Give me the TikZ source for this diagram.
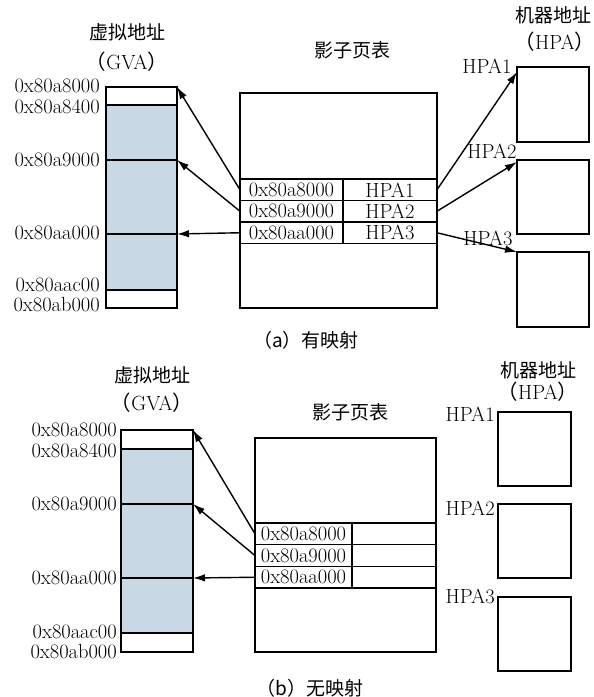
\documentclass[tikz,border=0pt]{standalone}
\usepackage{fontspec}
\newfontfamily\cjk{Noto Sans CJK SC}
\usetikzlibrary{arrows.meta}
\definecolor{shade}{RGB}{200,216,229}
\begin{document}
\begin{tikzpicture}[x=1pt,y=-1pt,
  box/.style={draw, line width=1.5pt, inner sep=0pt, outer sep=0pt, anchor=north west, font=\fontsize{20.5}{24}\selectfont},
  sh/.style={box, fill=shade},
  lab/.style={font=\fontsize{20.5}{24}\selectfont, inner sep=0pt},
  zh/.style={font=\fontsize{19}{22}\selectfont\cjk, inner sep=0pt},
  arr/.style={-{Latex[length=12pt,width=7.5pt]}, line width=1.4pt},
]
\useasboundingbox (0,0) rectangle (594,697);

% ================= (a) =================
\node[zh] (ta1) at (127,32) {虚拟地址};
\node[lab] (ta2) at (127,62) {{\cjk （}GVA{\cjk ）}};
\node[zh] (ta3) at (352,50) {影子页表};
\node[zh] (ta4) at (553,15) {机器地址};
\node[lab] (ta5) at (555,42) {{\cjk （}HPA{\cjk ）}};

\node[box, minimum width=71pt, minimum height=18pt] (a0) at (106,87) {};
\node[sh, minimum width=71pt, minimum height=55pt] (a1) at (106,105) {};
\node[sh, minimum width=71pt, minimum height=74pt] (a2) at (106,160) {};
\node[sh, minimum width=71pt, minimum height=56pt] (a3) at (106,234) {};
\node[box, minimum width=71pt, minimum height=18pt] (a4) at (106,290) {};

\node[lab, anchor=east] (la0) at (100,86) {0x80a8000};
\node[lab, anchor=east] (la1) at (100,107) {0x80a8400};
\node[lab, anchor=east] (la2) at (100,160) {0x80a9000};
\node[lab, anchor=east] (la3) at (100,233) {0x80aa000};
\node[lab, anchor=east] (la4) at (100,285) {0x80aac00};
\node[lab, anchor=east] (la5) at (100,305) {0x80ab000};

\node[box, minimum width=197pt, minimum height=215pt] (ta) at (240,93) {};
\node[box, minimum width=103pt, minimum height=21.5pt] (ak1) at (240,179) {0x80a8000};
\node[box, minimum width=103pt, minimum height=21.5pt] (ak2) at (240,200.5) {0x80a9000};
\node[box, minimum width=103pt, minimum height=21.5pt] (ak3) at (240,222) {0x80aa000};
\node[box, minimum width=94pt, minimum height=21.5pt] (av1) at (343,179) {HPA1};
\node[box, minimum width=94pt, minimum height=21.5pt] (av2) at (343,200.5) {HPA2};
\node[box, minimum width=94pt, minimum height=21.5pt] (av3) at (343,222) {HPA3};

\node[box, minimum width=72pt, minimum height=75pt] (h1) at (517,67) {};
\node[box, minimum width=72pt, minimum height=74pt] (h2) at (517,160) {};
\node[box, minimum width=72pt, minimum height=75pt] (h3) at (517,252) {};

\node[lab] (hl1) at (487,66) {HPA1};
\node[lab] (hl2) at (492,151) {HPA2};
\node[lab] (hl3) at (488,238) {HPA3};

\draw[arr] (ak1.west) -- (a0.north east);
\draw[arr] (ak2.west) -- (a2.north east);
\draw[arr] (ak3.west) -- (a3.north east);
\draw[arr] (av1.east) -- ([yshift=-5pt]h1.north west);
\draw[arr] (av2.east) -- ([yshift=-2pt]h2.north west);
\draw[arr] (av3.east) -- (h3.north west);

\node[zh] (capa) at (306,340) {（a）有映射};

% ================= (b) =================
\node[zh] (tb1) at (152,375) {虚拟地址};
\node[lab] (tb2) at (152,403) {{\cjk （}GVA{\cjk ）}};
\node[zh] (tb3) at (350,412) {影子页表};
\node[zh] (tb4) at (538,370) {机器地址};
\node[lab] (tb5) at (538,392) {{\cjk （}HPA{\cjk ）}};

\node[box, minimum width=72pt, minimum height=19pt] (b0) at (121,430) {};
\node[sh, minimum width=72pt, minimum height=55pt] (b1) at (121,449) {};
\node[sh, minimum width=72pt, minimum height=74pt] (b2) at (121,504) {};
\node[sh, minimum width=72pt, minimum height=55pt] (b3) at (121,578) {};
\node[box, minimum width=72pt, minimum height=19pt] (b4) at (121,633) {};

\node[lab, anchor=east] (lb0) at (117,430) {0x80a8000};
\node[lab, anchor=east] (lb1) at (117,451) {0x80a8400};
\node[lab, anchor=east] (lb2) at (117,504) {0x80a9000};
\node[lab, anchor=east] (lb3) at (117,578) {0x80aa000};
\node[lab, anchor=east] (lb4) at (117,632) {0x80aac00};
\node[lab, anchor=east] (lb5) at (117,652) {0x80ab000};

\node[box, minimum width=181pt, minimum height=214pt] (tbl) at (255,438) {};
\node[box, minimum width=97pt, minimum height=21.7pt] (bk1) at (255,523) {0x80a8000};
\node[box, minimum width=97pt, minimum height=21.7pt] (bk2) at (255,544.7) {0x80a9000};
\node[box, minimum width=97pt, minimum height=21.7pt] (bk3) at (255,566.4) {0x80aa000};
\node[box, minimum width=84pt, minimum height=21.7pt] (bv1) at (352,523) {};
\node[box, minimum width=84pt, minimum height=21.7pt] (bv2) at (352,544.7) {};
\node[box, minimum width=84pt, minimum height=21.7pt] (bv3) at (352,566.4) {};

\node[box, minimum width=73pt, minimum height=74pt] (g1) at (498,412) {};
\node[box, minimum width=73pt, minimum height=74pt] (g2) at (498,504) {};
\node[box, minimum width=73pt, minimum height=74pt] (g3) at (498,597) {};

\node[lab, anchor=east] (gl1) at ([xshift=-3pt,yshift=-2pt]g1.north west) {HPA1};
\node[lab, anchor=east] (gl2) at ([xshift=-3pt,yshift=-4pt]g2.north west) {HPA2};
\node[lab, anchor=east] (gl3) at ([xshift=-3pt,yshift=1pt]g3.north west) {HPA3};

\draw[arr] (bk1.west) -- (b0.north east);
\draw[arr] (bk2.west) -- (b2.north east);
\draw[arr] (bk3.west) -- (b3.north east);

\node[zh] (capb) at (310,688) {（b）无映射};
\end{tikzpicture}
\end{document}
